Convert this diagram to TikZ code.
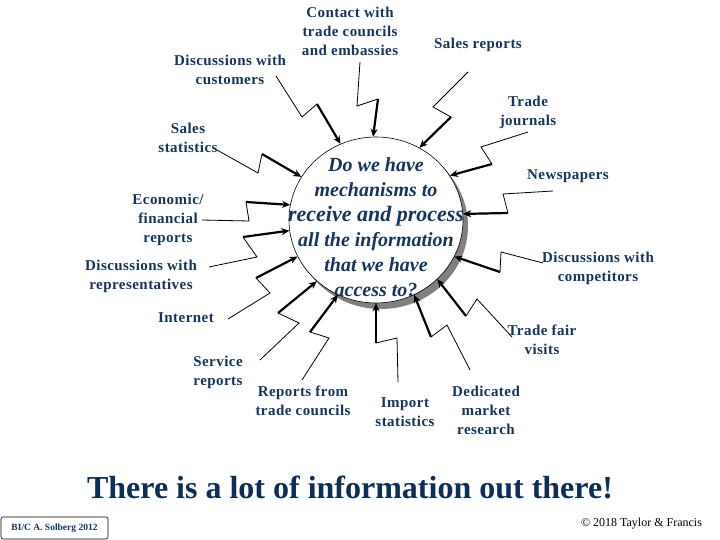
\documentclass[tikz,border=0pt]{standalone}
\usepackage{fontspec}
\setmainfont{Liberation Serif}
\newfontfamily\labfont[LetterSpace=3]{Liberation Serif}
\usetikzlibrary{arrows.meta,shapes.geometric}
\definecolor{navy}{RGB}{22,52,92}
\definecolor{titlenavy}{RGB}{14,46,88}
\definecolor{shadowgray}{RGB}{128,128,128}
\begin{document}
\begin{tikzpicture}[x=1pt,y=-1pt,
  lbl/.style={font=\labfont\bfseries\fontsize{15}{19}\selectfont, text=navy, align=center, inner sep=0pt},
  feed/.style={line width=0.8pt},
  push/.style={line width=2.2pt, -{Stealth[length=8pt,width=7pt]}},
]
\useasboundingbox (0,0) rectangle (720,540);
\fill[white] (0,0) rectangle (720,540);

% central question with shadow
\fill[shadowgray] (381,226) ellipse [x radius=87, y radius=83];
\node[ellipse, draw, fill=white, minimum width=174pt, minimum height=166pt, inner sep=0pt, line width=0.6pt] (q) at (376,220) {};
\node[font=\bfseries\itshape\fontsize{20}{25}\selectfont, text=navy, align=center, inner sep=0pt] (qt) at (376,227)
  {Do we have\\mechanisms to\\{\fontsize{22}{25}\selectfont receive and process}\\all the information\\that we have\\access to?};

% labels
\node[lbl] (cust) at (230,70) {Discussions with\\customers};
\node[lbl] (cont) at (350,31) {Contact with\\trade councils\\and embassies};
\node[lbl] (srep) at (478,45) {Sales reports};
\node[lbl] (jour) at (528,112) {Trade\\journals};
\node[lbl] (sstat) at (188,138) {Sales\\statistics};
\node[lbl] (news) at (568,176) {Newspapers};
\node[lbl] (econ) at (168,220) {Economic/\\financial\\reports};
\node[lbl] (reps) at (141,276) {Discussions with\\representatives};
\node[lbl] (comp) at (598,268) {Discussions with\\competitors};
\node[lbl] (inet) at (186,318) {Internet};
\node[lbl] (fair) at (542,340) {Trade fair\\visits};
\node[lbl] (serv) at (218,372) {Service\\reports};
\node[lbl] (rtc) at (303,401) {Reports from\\trade councils};
\node[lbl] (imp) at (405,412) {Import\\statistics};
\node[lbl] (ded) at (486,410) {Dedicated\\market\\research};

% zigzag connectors: start, kink, jog
\coordinate (s1) at (276,76);  \coordinate (m1) at (302,117); \coordinate (j1) at (317,104);
\coordinate (s2) at (360,62);  \coordinate (m2) at (357,106); \coordinate (j2) at (378,99);
\coordinate (s3) at (468,72);  \coordinate (m3) at (433,107); \coordinate (j3) at (451,117);
\coordinate (s4) at (528,132); \coordinate (m4) at (481,147); \coordinate (j4) at (492,164);
\coordinate (s5) at (553,191); \coordinate (m5) at (503,194); \coordinate (j5) at (508,213);
\coordinate (s6) at (543,263); \coordinate (m6) at (501,252); \coordinate (j6) at (500,272);
\coordinate (s7) at (512,337); \coordinate (m7) at (477,299); \coordinate (j7) at (466,316);
\coordinate (s8) at (470,370); \coordinate (m8) at (447,325); \coordinate (j8) at (431,337);
\coordinate (s9) at (398,382); \coordinate (m9) at (397,338); \coordinate (j9) at (376,343);
\coordinate (s10) at (302,380); \coordinate (m10) at (329,338); \coordinate (j10) at (310,332);
\coordinate (s11) at (260,360); \coordinate (m11) at (299,323); \coordinate (j11) at (278,313);
\coordinate (s12) at (228,319); \coordinate (m12) at (270,293); \coordinate (j12) at (256,278);
\coordinate (s13) at (209,267); \coordinate (m13) at (257,257); \coordinate (j13) at (243,237);
\coordinate (s14) at (202,220); \coordinate (m14) at (249,221); \coordinate (j14) at (246,202);
\coordinate (s15) at (217,150); \coordinate (m15) at (258,173); \coordinate (j15) at (262,154);

\foreach \i/\a in {1/115.3,2/92.8,3/59.7,4/31.4,5/4.6,6/-25.4,7/-44.5,8/-63.7,9/-90,10/-117.5,11/-134,12/-155.5,13/-173.4,14/170.1,15/150.1}{
  \draw[feed] (s\i) -- (m\i) -- (j\i);
  \draw[push] (j\i) -- (q.\a);
}

% bottom
\node[font=\bfseries\fontsize{32}{38}\selectfont, text=titlenavy, inner sep=0pt] (title) at (350,487) {There is a lot of information out there!};
\node[draw, rounded corners=2pt, minimum width=107pt, minimum height=22pt, inner sep=0pt, line width=0.6pt,
      font=\bfseries\fontsize{9.5}{11}\selectfont, text=navy] (bic) at (54.5,528) {BI/C A. Solberg 2012};
\node[font=\fontsize{12}{14}\selectfont, inner sep=0pt] (cr) at (641.5,524) {© 2018 Taylor \& Francis};
\end{tikzpicture}
\end{document}
